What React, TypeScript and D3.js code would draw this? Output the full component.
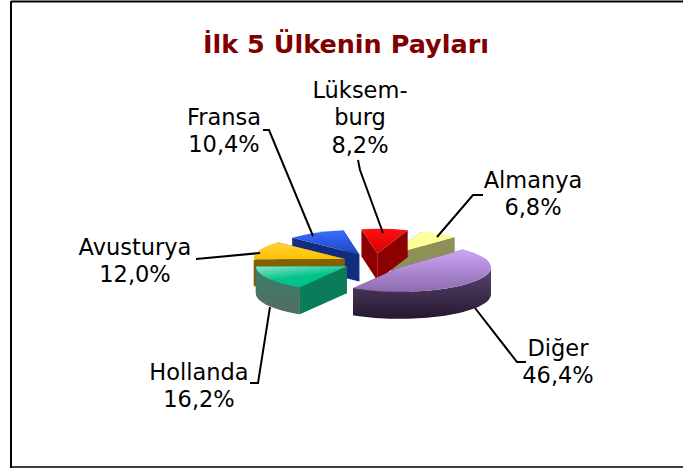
import React from 'react';
import * as d3 from 'd3';

// Data
const names = ['Diğer', 'Hollanda', 'Avusturya', 'Fransa', 'Lüksemburg', 'Almanya'];
const shares = [46.4, 16.2, 12.0, 10.4, 8.2, 6.8];
const labelLines = [['Diğer'], ['Hollanda'], ['Avusturya'], ['Fransa'], ['Lüksem-', 'burg'], ['Almanya']];

// Chart layout
const width = 683;
const height = 468;
const cx = 374.6;
const cy = 262;
const radius = 91;
const tilt = 0.27;
const explode = 32;
const depth = 27;
const startDeg = 44;

// Slice styles, same order as names: top light, top dark, wall top, wall bottom, side
const topLight = ['#cda4f6', '#8ee6c6', '#ffd23c', '#3a6cff', '#ff1010', '#ffff9e'];
const topDark = ['#8c6cad', '#00c48c', '#ffc000', '#1c48c0', '#d80000', '#ffff90'];
const wallTop = ['#5c4672', '#3c7c66', '#806000', '#10286e', '#7a0000', '#8f8f58'];
const wallBottom = ['#251830', '#506e62', '#806000', '#0c2060', '#a00000', '#8f8f58'];
const sideColor = ['#4a3860', '#0a7c5a', '#806000', '#122c80', '#8c0000', '#8f8f58'];

// Painter order, back to front
const drawOrder = [5, 3, 4, 2, 1, 0];

// Label placement: centre x, baseline of first line
const labelX = [558, 199, 135, 224, 360, 533];
const labelY = [356, 380, 255, 125, 98, 188];
const lineGap = 27.3;

// Leader lines from label to slice
const leaders: [number, number][][] = [
  [[526, 362], [517, 362], [475, 308]],
  [[250, 383], [258, 383], [270, 307]],
  [[196, 259], [260, 253]],
  [[263, 130], [269, 130], [313, 236]],
  [[358, 160], [360, 170], [383, 233]],
  [[483, 195], [473, 195], [437, 237]],
];

const pie = d3
  .pie<number>()
  .sort(null)
  .startAngle((startDeg * Math.PI) / 180)
  .endAngle((startDeg * Math.PI) / 180 + 2 * Math.PI);

const arcs = pie(shares);
const topArc = d3.arc<d3.PieArcDatum<number>>().innerRadius(0).outerRadius(radius);
const line = d3.line();

const percent = (v: number) => `${v.toFixed(1).replace('.', ',')}%`;

const App = () => {
  return (
    <svg
      width={width}
      height={height}
      style={{ position: 'absolute', left: 0, top: 0, background: '#fff' }}
    >
      <defs>
        {names.map((_, i) => (
          <React.Fragment key={i}>
            <linearGradient id={`top${i}`} x1="0" y1="0" x2={i === 1 ? 0.5 : 0} y2="1">
              <stop offset="0" stopColor={topLight[i]} />
              <stop offset={i === 1 ? 0.6 : 1} stopColor={topDark[i]} />
            </linearGradient>
            <linearGradient id={`wall${i}`} x1="0" y1="0" x2="0" y2="1">
              <stop offset="0" stopColor={wallTop[i]} />
              <stop offset="1" stopColor={wallBottom[i]} />
            </linearGradient>
          </React.Fragment>
        ))}
      </defs>

      {/* frame */}
      <g stroke="#000">
        <line x1={11} y1={1} x2={11} y2={height} strokeWidth={2} />
        <line x1={11} y1={1.5} x2={width} y2={1.5} strokeWidth={2} />
        <line x1={11} y1={467} x2={width} y2={467} strokeWidth={1.5} />
      </g>

      <text
        x={346}
        y={53}
        textAnchor="middle"
        fontFamily="'DejaVu Sans', Verdana, sans-serif"
        fontWeight="bold"
        fontSize={25.5}
        fill="#800000"
      >
        İlk 5 Ülkenin Payları
      </text>

      {/* slices */}
      {drawOrder.map((i) => {
        const a = arcs[i];
        const mid = (a.startAngle + a.endAngle) / 2;
        const ox = cx + explode * Math.sin(mid);
        const oy = cy - explode * tilt * Math.cos(mid);
        const px = (t: number): [number, number] => [
          ox + radius * Math.sin(t),
          oy - radius * tilt * Math.cos(t),
        ];
        const radial = (t: number) => {
          const [x, y] = px(t);
          return (
            line([
              [ox, oy],
              [x, y],
              [x, y + depth],
              [ox, oy + depth],
            ]) + 'Z'
          );
        };
        // outer wall only where the rim faces the viewer
        const wallFrom = Math.max(a.startAngle, Math.PI / 2);
        const wallTo = Math.min(a.endAngle, (3 * Math.PI) / 2);
        let wall = '';
        if (wallTo > wallFrom) {
          const rim = d3.range(0, 41).map((k) => px(wallFrom + ((wallTo - wallFrom) * k) / 40));
          const lower = rim
            .slice()
            .reverse()
            .map(([x, y]): [number, number] => [x, y + depth]);
          wall = line([...rim, ...lower]) + 'Z';
        }
        const edges = [a.startAngle, a.endAngle].sort(
          (p, q) => px(p)[1] - px(q)[1]
        );
        return (
          <g key={i}>
            {edges.map((t, k) => (
              <path key={k} d={radial(t)} fill={sideColor[i]} />
            ))}
            {wall && <path d={wall} fill={`url(#wall${i})`} />}
            <g transform={`translate(${ox},${oy}) scale(1,${tilt})`}>
              <path d={topArc(a) as string} fill={`url(#top${i})`} />
            </g>
          </g>
        );
      })}

      {/* leaders */}
      {leaders.map((pts, i) => (
        <path key={i} d={line(pts) as string} fill="none" stroke="#000" strokeWidth={2} />
      ))}

      {/* labels */}
      {names.map((n, i) => (
        <text
          key={n}
          textAnchor="middle"
          fontFamily="'DejaVu Sans', Verdana, sans-serif"
          fontSize={22.5}
          fill="#000"
        >
          {[...labelLines[i], percent(shares[i])].map((t, k) => (
            <tspan key={k} x={labelX[i]} y={labelY[i] + k * lineGap}>
              {t}
            </tspan>
          ))}
        </text>
      ))}
    </svg>
  );
};

export default App;
